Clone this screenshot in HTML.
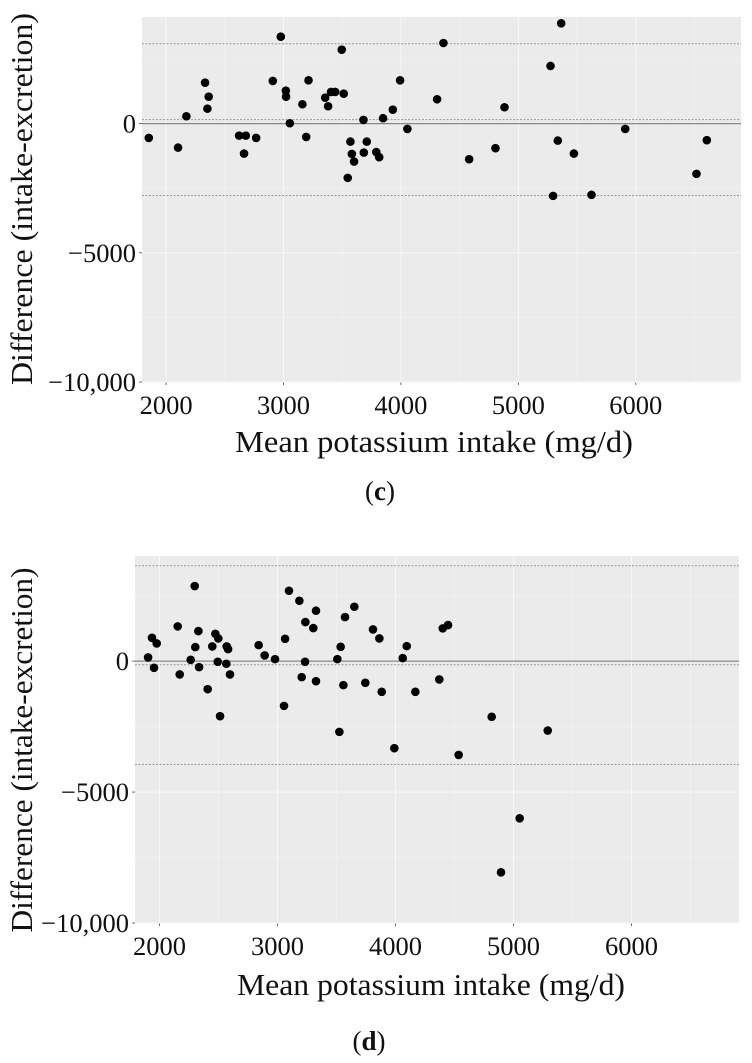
<!DOCTYPE html>
<html><head><meta charset="utf-8"><style>
html,body{margin:0;padding:0;background:#fff;}
svg{display:block;font-family:"Liberation Serif",serif;}
</style></head><body>
<svg id="fig" width="752" height="1063" viewBox="0 0 752 1063" xmlns="http://www.w3.org/2000/svg"></svg>
<script>
// Panel (c) data
const cX = [1853,2102,2173,2332,2363,2352,2622,2679,2664,2767,2909,2977,3020,3022,3054,3161,3193,3213,3355,3380,3405,3440,3496,3513,3547,3570,3582,3601,3681,3684,3709,3790,3815,3848,3931,3993,4055,4308,4362,4581,4805,4882,5274,5296,5336,5365,5473,5623,5910,6517,6605];
const cY = [-553,-928,286,1586,1044,580,-464,-464,-1160,-553,1651,3364,1276,1044,15,750,-514,1678,1005,673,1226,1226,2862,1160,-2100,-696,-1172,-1469,143,-1121,-696,-1100,-1300,209,541,1678,-205,943,3121,-1377,-951,634,2231,-2796,-657,3882,-1160,-2757,-205,-1945,-642];
const cLines = [3094,155,-2784];
// Panel (d) data
const dX = [1903,1936,1976,1953,2154,2171,2264,2298,2303,2329,2335,2408,2447,2473,2498,2493,2513,2569,2581,2566,2597,2840,2891,2979,3064,3055,3097,3185,3236,3233,3205,3303,3326,3326,3507,3535,3524,3572,3558,3651,3744,3809,3863,3883,3990,4061,4095,4168,4371,4400,4445,4535,4815,4894,5052,5290];
const dY = [141,891,675,-256,1326,-509,50,2867,535,1147,-229,-1070,560,1045,866,-25,-2103,560,459,-101,-509,611,216,76,853,-1709,2687,2305,1491,-25,-611,1262,1924,-765,76,547,-2702,1682,-917,2076,-829,1211,866,-1173,-3326,115,573,-1173,-700,1250,1376,-3582,-2128,-8066,-6002,-2651];
const dLines = [3643,-141,-3949];
const xTicks = [2000,3000,4000,5000,6000];
const xMinor = [2500,3500,4500,5500,6500];
const yTicks = [0,-5000,-10000];
const yTickLabels = ["0","\u22125000","\u221210,000"];
const yMinor = [2500,-2500,-7500];

const NS="http://www.w3.org/2000/svg";
const svg=document.getElementById('fig');
function mk(tag,attrs,parent){const e=document.createElementNS(NS,tag);for(const k in attrs)e.setAttribute(k,attrs[k]);(parent||svg).appendChild(e);return e;}

function panel(cfg){
  const g=mk('g',{});
  
  
  const sx=v=>cfg.x0+(v-cfg.xmin)/(cfg.xmax-cfg.xmin)*(cfg.x1-cfg.x0);
  const sy=v=>cfg.y0+(cfg.ymax-v)/(cfg.ymax-cfg.ymin)*(cfg.y1-cfg.y0);
  const bg=mk('rect',{x:cfg.x0,y:cfg.y0,width:cfg.x1-cfg.x0,height:cfg.y1-cfg.y0,fill:'#ebebeb'},g);
  
  
  xMinor.forEach(v=>{const X=sx(v);if(X>cfg.x0&&X<cfg.x1)mk('line',{x1:X,x2:X,y1:cfg.y0,y2:cfg.y1,stroke:'#f4f4f4','stroke-width':0.6},g);});
  yMinor.forEach(v=>{const Y=sy(v);if(Y>cfg.y0&&Y<cfg.y1)mk('line',{x1:cfg.x0,x2:cfg.x1,y1:Y,y2:Y,stroke:'#f4f4f4','stroke-width':0.6},g);});
  xTicks.forEach(v=>{const X=sx(v);mk('line',{x1:X,x2:X,y1:cfg.y0,y2:cfg.y1,stroke:'#fafafa','stroke-width':0.9},g);
    mk('line',{x1:X,x2:X,y1:cfg.y1,y2:cfg.y1+3,stroke:'#444','stroke-width':0.8},g);
    const t=mk('text',{x:X,y:cfg.y1+32,'text-anchor':'middle','font-size':26.5,fill:'#111'},g);t.textContent=v;
    
    });
  yTicks.forEach((v,i)=>{const Y=sy(v);mk('line',{x1:cfg.x0,x2:cfg.x1,y1:Y,y2:Y,stroke:'#fafafa','stroke-width':0.9},g);
    mk('line',{x1:cfg.x0-3,x2:cfg.x0,y1:Y,y2:Y,stroke:'#444','stroke-width':0.8},g);
    const t=mk('text',{x:cfg.x0-6,y:Y+9,'text-anchor':'end','font-size':26.5,fill:'#111'},g);t.textContent=yTickLabels[i];
    
    });
  const z=mk('line',{x1:cfg.x0,x2:cfg.x1,y1:sy(0),y2:sy(0),stroke:'#888','stroke-width':1.3},g);
  
  
  cfg.lines.forEach((v,i)=>{const l=mk('line',{x1:cfg.x0,x2:cfg.x1,y1:sy(v),y2:sy(v),stroke:'#999','stroke-width':1,'stroke-dasharray':'2,1.5'},g);
    
    });
  cfg.xs.forEach((v,i)=>{const c=mk('circle',{cx:sx(v),cy:sy(cfg.ys[i]),r:4.3,fill:'#000'},g);
    
    });
  const yt=mk('text',{x:0,y:0,'text-anchor':'middle','font-size':31,fill:'#111',lengthAdjust:'spacingAndGlyphs',transform:`translate(${cfg.ytx},${cfg.ytc}) rotate(-90)`},g);
  yt.textContent='Difference (intake-excretion)';
  yt.setAttribute('textLength',cfg.ytl);
  
  
  const xt=mk('text',{x:cfg.xtc,y:cfg.xty,'text-anchor':'middle','font-size':31,fill:'#111',lengthAdjust:'spacingAndGlyphs',textLength:cfg.xtl},g);
  xt.textContent='Mean potassium intake (mg/d)';
  
  
  const cap=mk('text',{x:cfg.capx,y:cfg.capy,'text-anchor':'middle','font-size':27,fill:'#111'},g);
  cap.innerHTML='(<tspan font-weight="bold">'+cfg.cap+'</tspan>)';
  
  
}
panel({name:'panel-c',x0:142,x1:741,y0:17,y1:382,xmin:1795,xmax:6896,ymin:-10000,ymax:4127,
  xs:cX,ys:cY,lines:cLines,ytx:32,ytc:199,ytl:372,xtc:434,xty:452,xtl:398,cap:'c',capx:380,capy:500});
panel({name:'panel-d',x0:135,x1:739,y0:556,y1:923,xmin:1792,xmax:6911,ymin:-10000,ymax:4014,
  xs:dX,ys:dY,lines:dLines,ytx:32,ytc:750,ytl:365,xtc:431,xty:995,xtl:388,cap:'d',capx:369,capy:1050});
</script>
</body></html>
